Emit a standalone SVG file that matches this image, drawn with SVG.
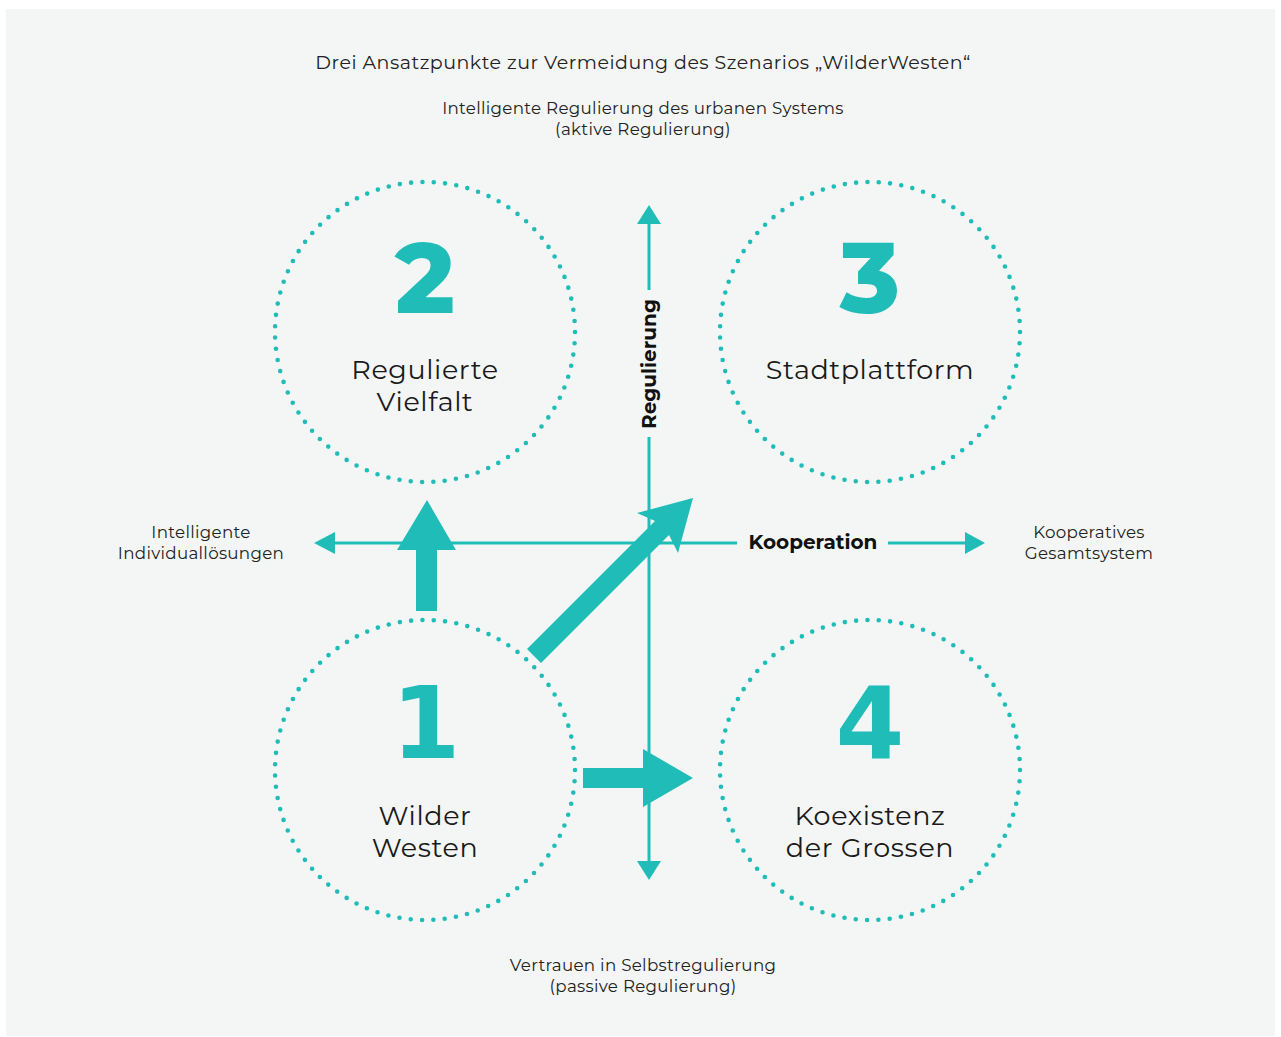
<svg xmlns="http://www.w3.org/2000/svg" width="1281" height="1037" viewBox="0 0 1281 1037">
  <style>
    .ring { fill: none; stroke: #20bdb8; stroke-width: 4.6; stroke-linecap: round; stroke-dasharray: 0 11.355; }
    .axis { stroke: #20bdb8; stroke-width: 3; fill: none; }
    .teal { fill: #20bdb8; }
    .num { font-family: "Montserrat", "Noto Sans", "DejaVu Sans", sans-serif; font-weight: 800; font-size: 100px; fill: #20bdb8; text-anchor: middle; }
    .num.alt { font-family: "DejaVu Sans", "Noto Sans", sans-serif; font-weight: bold; font-size: 99px; }
    .lbl { font-family: "Montserrat", "Noto Sans", "DejaVu Sans", sans-serif; font-size: 27px; fill: #1a1a1a; text-anchor: middle; letter-spacing: 0.6px; }
    .small { font-family: "Montserrat", "Noto Sans", "DejaVu Sans", sans-serif; font-size: 16.7px; fill: #222; text-anchor: middle; letter-spacing: 0.3px; }
    .title { font-family: "Montserrat", "Noto Sans", "DejaVu Sans", sans-serif; font-size: 19px; fill: #222; text-anchor: middle; letter-spacing: 0.5px; }
    .bold { font-family: "Montserrat", "Noto Sans", "DejaVu Sans", sans-serif; font-size: 20px; font-weight: bold; fill: #111; text-anchor: middle; }
  </style>

  <rect x="0" y="0" width="1281" height="1037" fill="#ffffff"/>
  <rect x="6" y="9" width="1269" height="1027" fill="#f4f6f5"/>

  <text class="title" x="643" y="69">Drei Ansatzpunkte zur Vermeidung des Szenarios „WilderWesten“</text>
  <text class="small" x="643" y="114">Intelligente Regulierung des urbanen Systems</text>
  <text class="small" x="643" y="135">(aktive Regulierung)</text>
  <text class="small" x="201" y="538">Intelligente</text>
  <text class="small" x="201" y="559">Individuallösungen</text>
  <text class="small" x="1089" y="538">Kooperatives</text>
  <text class="small" x="1089" y="559">Gesamtsystem</text>
  <text class="small" x="643" y="971">Vertrauen in Selbstregulierung</text>
  <text class="small" x="643" y="992">(passive Regulierung)</text>

  <!-- axes and transition arrows -->
  <g id="connectors">
    <!-- vertical axis: Regulierung -->
    <line class="axis" x1="649" y1="222" x2="649" y2="290"/>
    <line class="axis" x1="649" y1="437" x2="649" y2="863"/>
    <polygon class="teal" points="649,205 661,224 637,224"/>
    <polygon class="teal" points="649,880 661,861 637,861"/>
    <text class="bold" transform="translate(655.5,364) rotate(-90)" x="0" y="0">Regulierung</text>

    <!-- horizontal axis: Kooperation -->
    <line class="axis" x1="333" y1="543" x2="737" y2="543"/>
    <line class="axis" x1="888" y1="543" x2="967" y2="543"/>
    <polygon class="teal" points="314,543 335,532 335,554"/>
    <polygon class="teal" points="985,543 965,532 965,554"/>
    <text class="bold" x="813" y="549">Kooperation</text>

    <!-- 1 -> 2 -->
    <polygon class="teal" points="416,611 437,611 437,550 456,550 427,500 397,550 416,550"/>
    <!-- 1 -> 3 -->
    <polygon class="teal" points="527,649 541,663 669,535 678,553 693,498 637,513 655,521"/>
    <!-- 1 -> 4 -->
    <polygon class="teal" points="583,768 643,768 643,749 693,778 643,807 643,788 583,788"/>
  </g>

  <g id="node-2">
    <circle class="ring" cx="425" cy="332" r="150"/>
    <text class="num" x="425" y="313">2</text>
    <text class="lbl" x="425" y="379">Regulierte</text>
    <text class="lbl" x="425" y="411">Vielfalt</text>
  </g>

  <g id="node-3">
    <circle class="ring" cx="870" cy="332" r="150"/>
    <text class="num" x="870" y="313">3</text>
    <text class="lbl" x="870" y="379">Stadtplattform</text>
  </g>

  <g id="node-1">
    <circle class="ring" cx="425" cy="770" r="150"/>
    <text class="num alt" x="426" y="758">1</text>
    <text class="lbl" x="425" y="825">Wilder</text>
    <text class="lbl" x="425" y="857">Westen</text>
  </g>

  <g id="node-4">
    <circle class="ring" cx="870" cy="770" r="150"/>
    <text class="num alt" x="870" y="758">4</text>
    <text class="lbl" x="870" y="825">Koexistenz</text>
    <text class="lbl" x="870" y="857">der Grossen</text>
  </g>
</svg>
